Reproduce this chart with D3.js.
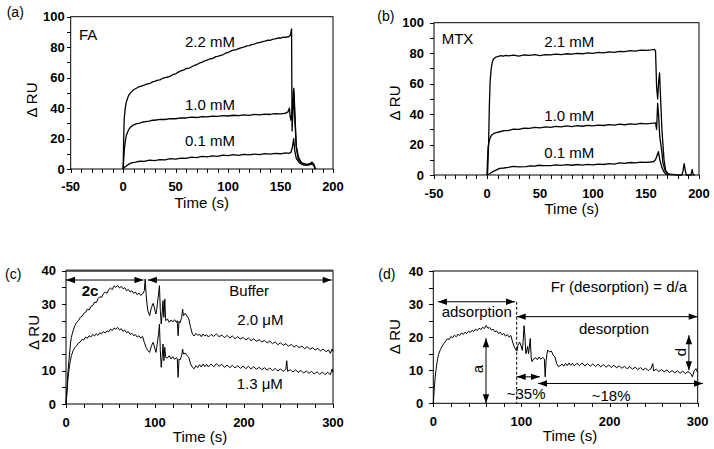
<!DOCTYPE html>
<html><head><meta charset="utf-8">
<script src="https://cdn.jsdelivr.net/npm/d3@7"></script>
<style>body{margin:0;background:#fff}svg{display:block}text{font-family:"Liberation Sans",Arial,sans-serif;fill:#000}</style>
</head><body><svg id="c" width="714" height="449"></svg>
<script>
// ---------- DATA ----------
// (a) FA, Time (s) vs ΔRU
const fa22 = [[0,0],[0.5,20],[1,33],[2,40],[3,44],[5,48],[7,50],[10,52],[13,53.2],[15,54],[18,54.6],[20,55],[23,55.9],[25,56],[28,57.2],[30,57.5],[33,58.4],[35,58.5],[38,59.6],[40,60],[43,60.4],[45,61],[48,62.2],[50,62.5],[53,63.8],[55,64.5],[58,65.1],[60,66],[63,66.3],[65,67],[68,68.1],[70,68.5],[73,69.6],[75,70],[78,71.1],[80,71.5],[83,72.4],[85,72.5],[88,73.7],[90,74],[93,74.6],[95,75],[98,76.2],[100,76.5],[103,77.6],[105,78],[108,78.4],[110,79],[113,79.7],[115,80],[118,80.8],[120,81],[123,81.8],[125,82],[128,82.9],[130,83],[133,83.7],[135,84],[138,84.6],[140,84.5],[143,85.3],[145,85.5],[148,86.1],[150,86],[153,86.6],[155,86.5],[158,87],[159.5,88],[160.5,92],[161,25],[162,40],[162.7,50],[163.5,35],[165,15],[167,8],[170,4],[175,2.5],[179,3],[181,3.5],[183,0.5],[184,0]];
const fa10 = [[0,0],[0.5,6],[1,12],[2,18],[3,22],[5,25.5],[7,27.5],[10,29],[13,29.8],[15,30],[18,30.7],[20,31],[23,31.3],[25,31.5],[28,32.1],[30,32],[35,32.6],[40,32.5],[45,33.1],[50,33],[55,33.6],[60,33.5],[65,34],[70,33.8],[75,34.4],[80,34.2],[85,34.7],[90,34.5],[95,35],[100,34.8],[105,35.3],[110,35],[115,35.5],[120,35.2],[125,35.8],[130,35.5],[135,36],[140,35.8],[145,36.4],[150,36.2],[155,36.6],[157,37.5],[158.5,40],[159,35],[160,32],[161,38],[162,50],[162.7,53],[163.5,40],[165,14],[167,6],[170,4],[175,3],[178,3.5],[180,4.5],[182,3],[183,0]];
const fa01 = [[0,0],[1,1],[3,2],[5,3],[8,4],[12,4.5],[16,5.1],[20,5],[25,5.8],[30,5.5],[35,6.2],[40,6],[45,6.8],[50,6.5],[55,7.2],[60,7],[65,7.8],[70,7.5],[75,8.3],[80,8],[85,8.6],[90,8.3],[95,9.1],[100,8.8],[105,9.4],[110,9],[115,9.6],[120,9.3],[125,9.8],[130,9.5],[135,10.1],[140,9.8],[145,10.3],[150,10],[155,10.6],[158,10.3],[160,11],[161.5,15],[162.5,20],[163.5,12],[165,7],[168,4],[172,2.5],[176,2.5],[180,3.5],[182,2],[183,0]];
// (b) MTX
const mtx21 = [[0,0],[0.6,2],[1.5,20],[2.2,45],[3,62],[4,70],[5,74],[6,76],[8,77.3],[10,77.8],[13,78.4],[15,78],[18,78.6],[20,78.2],[25,78.7],[30,78],[35,78.8],[40,78.5],[45,79],[50,78.4],[55,79.1],[60,78.9],[65,79.4],[70,79],[75,79.6],[80,79.3],[85,79.9],[90,79.6],[95,80.2],[100,79.9],[105,80.5],[110,80.2],[115,80.8],[120,80.5],[125,81.2],[130,81],[135,81.6],[140,81.3],[145,82],[150,81.8],[155,82.2],[158,82.5],[159,81.5],[160,58],[161,50],[162,62],[162.8,67],[163.5,55],[165,30],[167,10],[168.5,3],[170,1.5],[172,0.5],[180,0],[184,0],[185,3],[186,7.5],[187,3],[188,0],[192.5,0],[193.5,3.7],[194.5,0],[196,0]];
const mtx10 = [[0,0],[0.5,10],[1,18],[2,22],[3,24.5],[4.5,26.3],[7,27.5],[12,28.4],[16,29.1],[20,29.2],[25,30.1],[30,30],[35,30.8],[40,30.6],[45,31.3],[50,31],[55,31.6],[60,31.3],[65,31.9],[70,31.6],[75,32.2],[80,31.8],[85,32.4],[90,32],[95,32.6],[100,32.2],[105,32.8],[110,32.5],[115,33.1],[120,32.8],[125,33.4],[130,33],[135,33.6],[140,33.3],[145,33.9],[150,33.6],[157,34],[159,34.2],[160,30],[161,47],[162,38],[163,25],[164.8,16],[166,8],[168,3],[170,1],[172,0]];
const mtx01 = [[0,0],[2.8,1],[5,2],[8,3],[12,4.4],[16,4.6],[20,5],[25,5.6],[30,5.3],[37,5.5],[41,6],[45,5.8],[49,6.4],[53,6.1],[60,6.2],[65,6.7],[70,6.3],[75,6.8],[80,6.4],[85,6.9],[90,6.5],[95,7],[100,6.6],[105,7.2],[110,6.9],[115,7.5],[120,7.2],[125,7.9],[130,7.6],[135,8.2],[140,7.9],[145,8.5],[150,8.3],[157,8.7],[159,10],[160.5,13],[161.7,15.3],[163,10],[165,5],[167,2],[169,0.5],[171,0]];
// (c) 2.0 µM and 1.3 µM
const c20 = [[0,0],[1,4],[2,9],[3,12],[4,15],[5,18],[6,20],[8,22],[10,23.5],[12,24.5],[14,25],[16,26],[18,26.3],[20,27.2],[22,27.5],[24,28.5],[26,28.2],[28,29.3],[30,29.5],[32,30.6],[34,30.4],[36,31.6],[38,32.2],[40,32],[42,33.1],[44,33.6],[46,33.2],[48,34.4],[50,34.8],[52,34.3],[54,35.5],[56,35],[58,35.6],[60,34.8],[62,35.3],[64,34.6],[66,34.9],[68,34],[70,34.4],[72,33.6],[74,34],[76,33.2],[78,33.6],[80,32.8],[82,33.3],[84,32.6],[86,33],[88,34],[89,37.5],[90,33],[91,30],[92,28],[94,26.5],[96,29],[98,30.2],[100,28],[101,27],[102,28.5],[104,33],[105,35.5],[106,28],[107,24],[108,27],[109,31],[110,26],[111,31.5],[112,25],[114,25.5],[116,24.5],[118,25.2],[120,24.6],[122,25.3],[124,24.5],[125,25],[126,20.5],[127,24.8],[128,24.3],[130,26],[131,28.5],[132,26.5],[134,27.2],[136,26.4],[138,25.5],[140,23],[142,21],[144,20.4],[146,21.2],[148,20.6],[150,20.9],[152,20.2],[154,21],[156,20.4],[158,20.8],[160,20.1],[163,20.9],[166,20.3],[169,21],[172,20.2],[175,20.7],[178,19.9],[181,20.6],[184,19.8],[187,20.4],[190,19.6],[193,20.2],[196,19.5],[199,20],[202,19.2],[205,19.8],[208,19],[211,19.6],[214,18.8],[217,19.3],[220,18.6],[223,19.1],[226,18.3],[229,18.9],[232,18.1],[235,18.6],[238,17.8],[241,18.4],[244,17.6],[247,18.1],[250,17.3],[253,17.9],[256,17.1],[259,17.6],[262,16.9],[265,17.4],[268,16.6],[271,17.2],[274,16.4],[277,16.9],[280,16.2],[283,16.7],[286,15.9],[289,16.5],[292,15.7],[295,16.2],[297,15.2],[299,16.5],[300,15.8]];
const c13 = [[0,0],[1,3],[2,7],[3,9.5],[4,11.5],[5,13],[6,14.5],[8,16],[10,17],[12,17.5],[14,18.3],[16,18.6],[18,19.4],[20,19.2],[22,20.1],[24,19.7],[26,20.5],[28,20.1],[30,20.9],[32,20.4],[34,21.1],[36,20.6],[38,21.4],[40,21],[42,21.7],[44,21.3],[46,22],[48,21.6],[50,22.5],[52,22],[54,22.8],[56,22.4],[58,23],[60,22.2],[62,22.6],[64,21.8],[66,22.2],[68,21.4],[70,21.7],[72,20.9],[74,21.2],[76,20.5],[78,20.8],[80,20.1],[82,20.5],[84,19.8],[86,20.3],[88,18.5],[90,17],[92,16],[94,15.5],[96,17.5],[98,18.5],[100,16.5],[101,15.5],[102,17],[104,21],[105,24],[106,16],[107,11],[108,14],[109,18],[110,13],[111,17],[112,14],[114,13.8],[116,14.5],[118,13.5],[120,14.2],[122,13.4],[124,14],[125,13.6],[126,8],[127,13.5],[128,13.2],[130,14.5],[131,16.5],[132,15],[134,15.3],[136,14.5],[138,14],[140,12],[142,11],[144,10.6],[146,11.5],[148,10.9],[150,11.8],[152,11.1],[154,12],[156,11.2],[158,11.9],[160,11.1],[163,12],[166,11.2],[169,12.1],[172,11.3],[175,11.9],[178,11],[181,11.7],[184,10.9],[187,11.6],[190,10.8],[193,11.5],[196,10.7],[199,11.4],[202,10.6],[205,11.3],[208,10.5],[211,11.2],[214,10.4],[217,11],[220,10.3],[223,10.9],[226,10.2],[229,10.8],[232,10],[235,10.7],[238,9.9],[241,10.5],[244,9.8],[247,10.4],[248,13],[249,9.8],[252,10.3],[255,9.6],[258,10.2],[261,9.5],[264,10.1],[267,9.3],[270,9.9],[273,9.2],[276,9.8],[279,9],[282,9.7],[285,8.9],[288,9.6],[291,8.8],[294,9.5],[297,8.8],[299,10.5],[300,9.5]];
// (d)
const dSeries = [[0,0],[1,4],[2,7.5],[3,10],[4,12],[5,13.5],[6,14.8],[8,16.2],[10,17.3],[12,18],[14,18.8],[16,19.5],[18,19.3],[20,20.2],[22,19.8],[24,20.6],[26,20.1],[28,20.9],[30,20.5],[32,21.3],[34,20.8],[36,21.5],[38,21.1],[40,21.8],[42,21.4],[44,22.1],[46,21.7],[48,22.4],[50,22],[52,22.7],[54,22.3],[56,23],[58,22.6],[60,23.5],[62,22.7],[64,22.9],[66,22.1],[68,22.4],[70,21.6],[72,21.9],[74,21.1],[76,21.5],[78,20.7],[80,21.1],[82,20.3],[84,20.8],[86,20],[88,20.5],[90,18.5],[92,17],[94,16],[95,15.8],[96,17.5],[98,18.5],[100,17],[101,16],[102,19],[103,23.5],[104,20],[105,15],[106,16],[107,17.2],[108,15],[109,17],[110,19.6],[111,14],[112,12.6],[114,13.5],[116,13.8],[118,13.2],[120,14],[122,13.3],[124,13.9],[126,13.4],[126.9,8],[128,13],[129,15],[130,16.1],[132,15.5],[134,15.8],[136,14.6],[138,14],[140,12],[142,11.1],[144,11.3],[146,11.9],[148,11.2],[150,12.1],[152,11.4],[154,12.2],[156,11.5],[158,12.1],[160,11.3],[163,12.1],[166,11.4],[169,12.2],[172,11.3],[175,12],[178,11.2],[181,11.9],[184,11.1],[187,11.8],[190,11],[193,11.7],[196,10.9],[199,11.6],[202,10.8],[205,11.5],[208,10.7],[211,11.3],[214,10.6],[217,11.2],[220,10.4],[223,11.1],[226,10.3],[229,10.9],[232,10.2],[235,10.8],[238,10.1],[241,10.6],[244,9.9],[247,10.5],[249,12],[250,9.8],[253,10.3],[256,9.6],[259,10.2],[262,9.5],[265,10.1],[268,9.3],[271,9.9],[274,9.2],[277,9.8],[280,9.1],[283,9.7],[286,9],[289,9.6],[292,9],[294,8],[296,9.8],[298,10.5],[300,9.3]];

// tick labels
const xTicksAB = [-50, 0, 50, 100, 150, 200];
const yTicksAB = [0, 20, 40, 60, 80, 100];
const xTicksCD = [0, 100, 200, 300];
const yTicksCD = [0, 10, 20, 30, 40];

// ---------- LAYOUT ----------
const svg = d3.select("#c");
const panels = [
  {id:"a", L:70.7, R:333, T:16.7, B:169, xd:[-50,200], yd:[0,100], xt:xTicksAB, yt:yTicksAB, xm:10, ym:10, gap:6,
   tickBase:190.5, titleBase:208, titleX:201.7, yTitleX:37, yTitleY:100, tag:[6.7,17],
   series:[fa22, fa10, fa01], sw:1.3},
  {id:"b", L:434, R:699, T:22.7, B:175, xd:[-50,200], yd:[0,100], xt:xTicksAB, yt:yTicksAB, xm:10, ym:10, gap:10,
   tickBase:197.5, titleBase:213.5, titleX:571.7, yTitleX:400, yTitleY:103, tag:[377.3,21],
   series:[mtx21, mtx10, mtx01], sw:1.3},
  {id:"c", L:66, R:333, T:270.7, B:404, xd:[0,300], yd:[0,40], xt:xTicksCD, yt:yTicksCD, xm:20, ym:5, gap:10,
   tickBase:426.5, titleBase:441.5, titleX:200, yTitleX:39, yTitleY:332.5, tag:[5,279], topThick:true,
   series:[c20, c13], sw:1},
  {id:"d", L:433.3, R:697.7, T:271, B:403.3, xd:[0,300], yd:[0,40], xt:xTicksCD, yt:yTicksCD, xm:20, ym:5, gap:10,
   tickBase:426, titleBase:441, titleX:570, yTitleX:400, yTitleY:336.7, tag:[378.3,279],
   series:[dSeries], sw:1}
];

const scales = {};
panels.forEach(p => {
  const x = d3.scaleLinear().domain(p.xd).range([p.L, p.R]);
  const y = d3.scaleLinear().domain(p.yd).range([p.B, p.T]);
  scales[p.id] = {x, y};
  const g = svg.append("g");
  const xTickVals = d3.range(p.xd[0], p.xd[1] + 0.001, p.xm);
  const yTickVals = d3.range(p.yd[0], p.yd[1] + 0.001, p.ym);
  g.append("g").attr("transform", `translate(0,${p.B})`)
    .call(d3.axisBottom(x).tickValues(xTickVals).tickSize(4).tickSizeOuter(0).tickFormat(""))
    .call(a => a.select(".domain").remove())
    .call(a => a.selectAll("line").attr("stroke", "#000").attr("shape-rendering", "crispEdges"));
  g.append("g").attr("transform", `translate(${p.L},0)`)
    .call(d3.axisLeft(y).tickValues(yTickVals).tickSize(4).tickSizeOuter(0).tickFormat(""))
    .call(a => a.select(".domain").remove())
    .call(a => a.selectAll("line").attr("stroke", "#000").attr("shape-rendering", "crispEdges"));
  g.selectAll(".xl").data(p.xt).enter().append("text")
    .attr("x", d => x(d)).attr("y", p.tickBase).attr("text-anchor", "middle")
    .attr("font-size", 13).attr("font-weight", "bold").text(d => d);
  g.selectAll(".yl").data(p.yt).enter().append("text")
    .attr("x", p.L - p.gap).attr("y", d => y(d)).attr("dy", "0.35em").attr("text-anchor", "end")
    .attr("font-size", 13).attr("font-weight", "bold").text(d => d);
  const line = d3.line().x(d => x(d[0])).y(d => y(d[1]));
  p.series.forEach(s => {
    g.append("path").attr("d", line(s)).attr("fill", "none").attr("stroke", "#000")
      .attr("stroke-width", p.sw).attr("stroke-linejoin", "round");
  });
  g.append("rect").attr("x", p.L).attr("y", p.T).attr("width", p.R - p.L).attr("height", p.B - p.T)
    .attr("fill", "none").attr("stroke", "#000").attr("stroke-width", 1);
  if (p.topThick) {
    g.append("line").attr("x1", p.L).attr("x2", p.R).attr("y1", p.T).attr("y2", p.T)
      .attr("stroke", "#444").attr("stroke-width", 2.2);
  }
  g.append("text").attr("x", p.titleX).attr("y", p.titleBase).attr("text-anchor", "middle")
    .attr("font-size", 15).text("Time (s)");
  g.append("text").attr("transform", `translate(${p.yTitleX},${p.yTitleY}) rotate(-90)`)
    .attr("text-anchor", "middle").attr("font-size", 15).text("Δ RU");
  g.append("text").attr("x", p.tag[0]).attr("y", p.tag[1]).attr("font-size", 14).text(`(${p.id})`);
});

// ---------- ANNOTATIONS ----------
function txt(x, y, s, opts = {}) {
  const t = svg.append("text").attr("x", x).attr("y", y).attr("font-size", opts.size || 15).text(s);
  if (opts.bold) t.attr("font-weight", "bold");
  if (opts.anchor) t.attr("text-anchor", opts.anchor);
  return t;
}
function head(x, y, ang) {
  const L = 9, W = 3.2;
  const c = Math.cos(ang), s = Math.sin(ang);
  const pts = [[x, y], [x - L * c + W * s, y - L * s - W * c], [x - L * c - W * s, y - L * s + W * c]];
  svg.append("polygon").attr("points", pts.map(q => q.join(",")).join(" ")).attr("fill", "#000");
}
function arrow(x1, y1, x2, y2) {
  svg.append("line").attr("x1", x1).attr("y1", y1).attr("x2", x2).attr("y2", y2)
    .attr("stroke", "#000").attr("stroke-width", 1);
  const ang = Math.atan2(y2 - y1, x2 - x1);
  head(x2, y2, ang);
  head(x1, y1, ang + Math.PI);
}

// (a)
txt(79, 40, "FA");
txt(185, 47, "2.2 mM");
txt(185, 110, "1.0 mM");
txt(185, 145.5, "0.1 mM");
// (b)
txt(441.7, 44, "MTX");
txt(544.3, 46.7, "2.1 mM");
txt(544.3, 120.7, "1.0 mM");
txt(544.3, 158, "0.1 mM");
// (c)
{
  const {x, y} = scales.c;
  arrow(x(0), y(37.2), x(87), y(37.2));
  arrow(x(92), y(37.2), x(298.5), y(37.2));
  txt(81.7, 296, "2c", {bold: true});
  txt(229.3, 296, "Buffer");
  txt(237.3, 325, "2.0 μM");
  txt(236.7, 389, "1.3 μM");
}
// (d)
{
  const {x, y} = scales.d;
  txt(550.7, 291.7, "Fr (desorption) = d/a");
  arrow(x(5.3), y(30.7), x(92.7), y(30.7));
  txt(441.7, 316.7, "adsorption");
  svg.append("line").attr("x1", x(94.6)).attr("x2", x(94.6)).attr("y1", y(30.7)).attr("y2", y(0))
    .attr("stroke", "#000").attr("stroke-width", 1).attr("stroke-dasharray", "3,2");
  arrow(x(94.6), y(26.2), x(300), y(26.2));
  txt(579, 334.3, "desorption");
  arrow(x(59.8), y(0), x(59.8), y(19.7));
  svg.append("text").attr("transform", `translate(${x(59.8) - 3},${369}) rotate(-90)`)
    .attr("text-anchor", "middle").attr("font-size", 15).text("a");
  arrow(x(290), y(20.6), x(290), y(10));
  svg.append("text").attr("transform", `translate(${x(290) - 3},${352}) rotate(-90)`)
    .attr("text-anchor", "middle").attr("font-size", 15).text("d");
  arrow(x(94.6), y(8), x(121), y(8));
  arrow(x(118.8), y(6), x(306), y(6));
  txt(506.7, 398.5, "~35%");
  txt(591.7, 401, "~18%");
}
</script></body></html>
